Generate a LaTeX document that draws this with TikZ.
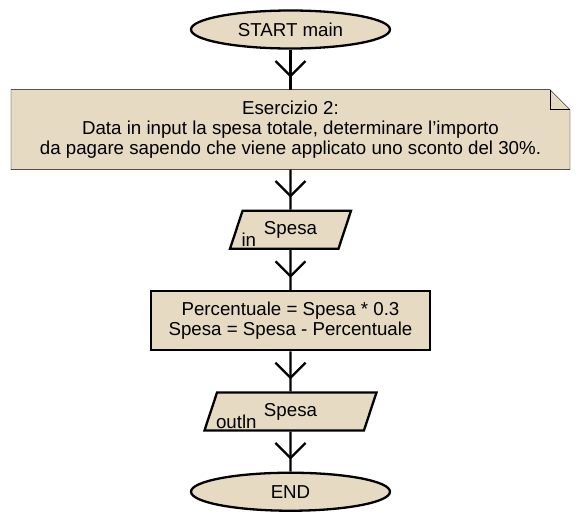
\documentclass[tikz,border=0pt]{standalone}
\usepackage{fontspec}
\setmainfont{Liberation Sans}
\usepackage{tikz}
\usetikzlibrary{arrows.meta,positioning,shapes.geometric,decorations.markings,backgrounds}
\definecolor{boxfill}{RGB}{230,218,194}

\begin{document}
\begin{tikzpicture}[x=1pt, y=1pt, line width=2.3pt, node distance=40pt,
	font=\fontsize{18.7pt}{20pt}\selectfont]
	\tikzstyle{terminal}=[ellipse, draw, fill=boxfill,
		minimum width=199pt, minimum height=38pt]
	\tikzstyle{box}=[rectangle, draw, fill=boxfill, align=center]
	\tikzstyle{io}=[trapezium, trapezium left angle=62,
		trapezium right angle=118, trapezium stretches body,
		draw, fill=boxfill, minimum height=38pt]
	\tikzstyle{iolabel}=[anchor=base west, inner sep=0pt]
	\tikzstyle{flowline}=[postaction={decorate}, decoration={markings,
		mark=at position -12pt with {\arrow{Straight Barb[length=15pt, width=30pt]}}}]
	\useasboundingbox (0,0) rectangle (580,-520);
	% % Nodes
	% start
	\node[terminal](start) at (290.5,-29.5) {START main};
	% exercise note
	\node[below=of start, minimum width=559pt, minimum height=80pt,
		  align=center, outer sep=0pt](note)
	{
		Esercizio 2:\\
		Data in input la spesa totale, determinare l’importo\\
		da pagare sapendo che viene applicato uno sconto del 30\%.
	};
	\begin{scope}[on background layer]
		\draw[fill=boxfill] (note.north west) -- ([xshift=-20pt]note.north east)
			-- ([yshift=-20pt]note.north east) -- (note.south east)
			-- (note.south west) -- cycle;
		\draw ([xshift=-20pt]note.north east) |- ([yshift=-20pt]note.north east);
	\end{scope}
	% input
	\node[io, below=of note, minimum width=121pt](input) {Spesa};
	\node[iolabel](inlabel) at ([shift={(12,3)}]input.bottom left corner) {in};
	% calculation
	\node[box, below=of input, minimum width=279pt, minimum height=59pt](calc)
	{
		Percentuale = Spesa * 0.3\\
		Spesa = Spesa - Percentuale
	};
	% output
	\node[io, below=of calc, minimum width=172pt](output) {Spesa};
	\node[iolabel](outlabel) at ([shift={(12,3)}]output.bottom left corner) {outln};
	% end
	\node[terminal, below=of output](end) {END};
	% % Connectors
	\draw [flowline] (start) -- (note);
	\draw [flowline] (note) -- (input);
	\draw [flowline] (input) -- (calc);
	\draw [flowline] (calc) -- (output);
	\draw [flowline] (output) -- (end);
\end{tikzpicture}
\end{document}
